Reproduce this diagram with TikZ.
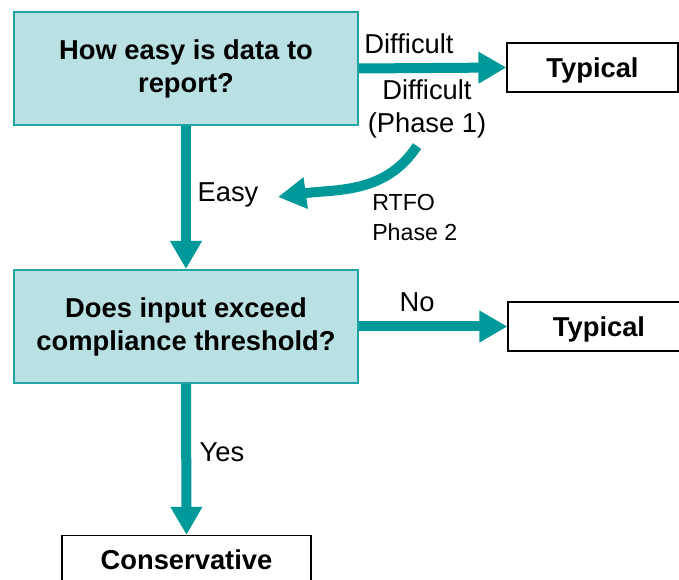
\documentclass[tikz,border=0pt]{standalone}
\usepackage{fontspec}
\setmainfont{Liberation Sans}
\usetikzlibrary{arrows.meta}

\definecolor{qfill}{RGB}{185,224,227}
\definecolor{qline}{RGB}{32,164,164}
\definecolor{flowcol}{RGB}{0,153,153}

\tikzset{
    question/.style={shape=rectangle, draw=qline, fill=qfill, line width=1.5pt,
        minimum width=258pt, minimum height=84.75pt, align=center,
        font=\fontsize{20.5}{24.75}\selectfont\bfseries},
    result/.style={shape=rectangle, draw=black, line width=0.9pt, minimum height=36.75pt,
        text depth=0pt, font=\fontsize{20.5}{24.75}\selectfont\bfseries},
    flow/.style={draw=flowcol, line width=7.5pt,
        -{Triangle[width=22.5pt, length=21pt]}},
    lbl/.style={font=\fontsize{20.5}{24.75}\selectfont, inner sep=0pt},
    small lbl/.style={font=\fontsize{17.4}{22.5}\selectfont, inner sep=0pt, align=left}
}

\begin{document}
\begin{tikzpicture}[x=0.75pt, y=-0.75pt]
                \useasboundingbox (0, 0) rectangle (679, 580);

                \node[question] (Q1) at (186, 68.5) {How easy is data to\\report?};
                \node[question] (Q2) at (186, 326.5) {Does input exceed\\compliance threshold?};
                \node[result, minimum width=128.25pt] (T1) at (592.5, 67.5) {Typical};
                \node[result, minimum width=136.5pt] (T2) at (599, 326.5) {Typical};
                \node[result, minimum width=186.75pt] (C) at (186.5, 560) {Conservative};

                \path [flow] (Q1.east) -- (T1.west);
                \path [flow] (Q1.south) -- (Q2.north);
                \path [flow] (Q2.east) -- (T2.west |- Q2.east);
                \path [flow] (Q2.south) -- (C.north);

                % RTFO phase 2 detour
                \coordinate (R1) at (417, 146);
                \coordinate (R2) at (278, 197);
                \path [flow] (R1) to[out=237, in=8] (R2);

                \node[lbl] (difficult) at (409, 44) {Difficult};
                \node[lbl, align=center] (phase1) at (427, 109) {Difficult\\(Phase 1)};
                \node[lbl] (easy) at (228, 195) {Easy};
                \node[small lbl, anchor=west] (rtfo) at (372, 218) {RTFO\\Phase 2};
                \node[lbl] (no) at (417, 302) {No};
                \node[lbl] (yes) at (222, 452) {Yes};
            \end{tikzpicture}
\end{document}
